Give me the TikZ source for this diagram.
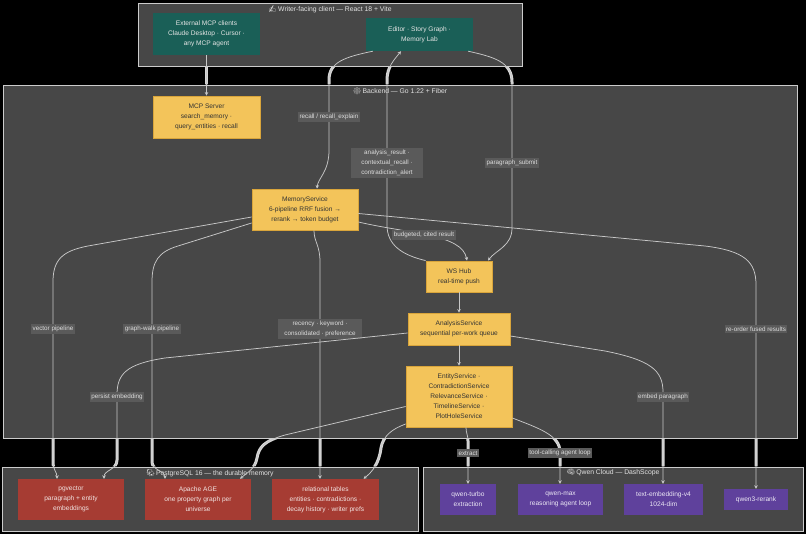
\documentclass[tikz,border=0pt]{standalone}
\usepackage{fontspec}
\setmainfont{Liberation Sans}
\newfontfamily\emojifont{Noto Emoji}
\usetikzlibrary{arrows.meta}
\definecolor{clusfill}{HTML}{474747}
\definecolor{clusdraw}{HTML}{CCCCCC}
\definecolor{ctitlec}{HTML}{E2E2E2}
\definecolor{tealfill}{HTML}{1A5F57}
\definecolor{tealtext}{HTML}{E6E6E6}
\definecolor{yelfill}{HTML}{F3C45A}
\definecolor{yeldraw}{HTML}{D9A53B}
\definecolor{yeltext}{HTML}{333333}
\definecolor{redfill}{HTML}{A63C33}
\definecolor{redtext}{HTML}{F2E4E2}
\definecolor{purfill}{HTML}{5F419C}
\definecolor{purtext}{HTML}{ECE8F4}
\definecolor{edgec}{HTML}{C8C8C8}
\definecolor{gapc}{HTML}{D6D6D6}
\definecolor{lblfill}{HTML}{5A5A5A}
\definecolor{lbltext}{HTML}{DDDDDD}
\newcommand\alledges{%
\draw[edge] (ext.south) -- (mcp.north);
\draw[edge] ([xshift=7pt]editor.south west) .. controls (345,57) and (329,62) .. (329,80) -- (329,150) .. controls (329,172) and (318,178) .. ([xshift=12pt]mem.north)
  node[lbl] (lrecall) at (329,117) {recall / recall\_explain};
\draw[edge] (ws.north west) .. controls (402,255) and (387,245) .. (387,225) -- (387,80) .. controls (387,67) and (394,60) .. ([xshift=-18.5pt]editor.south)
  node[lbl, inner xsep=10pt, inner ysep=2pt] (lanalysis) at (387,163) {analysis\_result ·\\contextual\_recall ·\\contradiction\_alert};
\draw[edge] ([xshift=-5pt]editor.south east) .. controls (494,57) and (512,62) .. (512,82) -- (512,228) .. controls (512,246) and (496,250) .. ([xshift=29pt]ws.north)
  node[lbl] (lsubmit) at (512,163) {paragraph\_submit};
\draw[edge] ([yshift=-12.5pt]mem.east) .. controls (410,234) and (462,234) .. ([xshift=8pt]ws.north)
  node[lbl] (lbudget) at (424,235) {budgeted, cited result};
\draw[edge] ([yshift=-4pt]mem.east) -- (705,246) .. controls (745,251) and (756,262) .. (756,285) -- (qr.north)
  node[lbl] (lrerank) at (756,329) {re-order fused results};
\draw[edge] ([yshift=-7.5pt]mem.west) -- (88,246) .. controls (62,251) and (53,260) .. (53,282) -- (53,462) .. controls (53,470) and (57,472) .. ([xshift=-14pt]pgv.north)
  node[lbl] (lvector) at (53,329) {vector pipeline};
\draw[edge] ([yshift=-13.5pt]mem.west) -- (178,246) .. controls (158,252) and (152,262) .. (152,282) -- (152,462) .. controls (152,470) and (165,471) .. ([xshift=-33pt]age.north)
  node[lbl] (lgraph) at (152,329) {graph-walk pipeline};
\draw[edge] ([xshift=9pt]mem.south) .. controls (314,242) and (320,245) .. (320,262) -- ([xshift=-5.5pt]rel.north)
  node[lbl, inner xsep=6pt, inner ysep=2.5pt] (lrecency) at (320,329) {recency · keyword ·\\consolidated · preference};
\draw[edge] (ws.south) -- (ana.north);
\draw[edge] (ana.south) -- (ent.north);
\draw[edge] ([yshift=-4pt]ana.west) -- (165,358) .. controls (126,364) and (117,374) .. (117,395) -- (117,460) .. controls (117,470) and (104,470) .. ([xshift=33pt]pgv.north)
  node[lbl] (lpersist) at (117,397) {persist embedding};
\draw[edge] ([yshift=-7pt]ana.east) -- (605,351) .. controls (650,360) and (663,370) .. (663,392) -- ([xshift=-0.5pt]te.north)
  node[lbl] (lembed) at (663,397) {embed paragraph};
\draw[edge] ([yshift=-10pt]ent.west) -- (285,435) .. controls (264,441) and (259,447) .. (257,458) .. controls (255,469) and (248,472) .. ([xshift=42pt]age.north);
\draw[edge] ([yshift=-27.5pt]ent.west) .. controls (392,429) and (383,436) .. (381,448) .. controls (379,464) and (372,472) .. ([xshift=38pt]rel.north);
\draw[edge] ([xshift=7pt]ent.south) .. controls (466,433) and (468,435) .. (468,441) -- (qt.north)
  node[lbl] (lextract) at (468,453) {extract};
\draw[edge] ([yshift=-21.5pt]ent.east) .. controls (538,428) and (560,435) .. (560,452) -- ([xshift=-0.5pt]qm.north)
  node[lbl] (ltool) at (560,453) {tool-calling agent loop};
}
\begin{document}
\begin{tikzpicture}[x=1pt,y=-1pt,
  every node/.style={font=\fontsize{6.6}{10}\selectfont},
  cluster/.style={rectangle, draw=clusdraw, line width=0.8pt, fill=clusfill, inner sep=0pt},
  ctitle/.style={text=ctitlec, inner sep=0pt, font=\fontsize{6.8}{10}\selectfont},
  tealbox/.style={rectangle, fill=tealfill, text=tealtext, align=center, inner sep=0pt},
  yelbox/.style={rectangle, fill=yelfill, draw=yeldraw, line width=0.8pt, text=yeltext, align=center, inner sep=0pt},
  redbox/.style={rectangle, fill=redfill, text=redtext, align=center, inner sep=0pt},
  purbox/.style={rectangle, fill=purfill, text=purtext, align=center, inner sep=0pt},
  edge/.style={draw=edgec, line width=0.75pt, -{Stealth[length=3.5pt,width=3.5pt]}},
  lbl/.style={fill=lblfill, text=lbltext, inner xsep=1.5pt, inner ysep=1.8pt, align=center, font=\fontsize{6.3}{10}\selectfont}
]
\useasboundingbox (0,0) rectangle (806,534);
\fill[black] (0,0) rectangle (806,534);
% clusters
\node[cluster, minimum width=384pt, minimum height=63pt] (client) at (330,34.5) {};
\node[cluster, minimum width=794pt, minimum height=353pt] (backend) at (400,261.5) {};
\node[cluster, minimum width=416pt, minimum height=64pt] (pg) at (210,499) {};
\node[cluster, minimum width=380pt, minimum height=64pt] (qwen) at (613,499) {};
\node[ctitle] (tclient) at (330,9) {{\emojifont ✍}\,Writer-facing client — React 18 + Vite};
\node[ctitle] (tbackend) at (400,91) {{\emojifont ⚙}\,Backend — Go 1.22 + Fiber};
\node[ctitle] (tpg) at (210,473) {{\emojifont 🐘}\,PostgreSQL 16 — the durable memory};
\node[ctitle] (tqwen) at (613,473) {{\emojifont 🧠}\,Qwen Cloud — DashScope};
% nodes
\node[tealbox, minimum width=107pt, minimum height=42pt] (ext) at (206.5,34) {External MCP clients\\Claude Desktop · Cursor ·\\any MCP agent};
\node[tealbox, minimum width=107pt, minimum height=33pt] (editor) at (419.5,34.5) {Editor · Story Graph ·\\Memory Lab};
\node[yelbox, minimum width=107pt, minimum height=42pt] (mcp) at (206.5,117) {MCP Server\\search\_memory ·\\query\_entities · recall};
\node[yelbox, minimum width=106pt, minimum height=41pt] (mem) at (305,209.5) {MemoryService\\6-pipeline RRF fusion →\\rerank → token budget};
\node[yelbox, minimum width=66pt, minimum height=31pt] (ws) at (459,276.5) {WS Hub\\real-time push};
\node[yelbox, minimum width=102pt, minimum height=32pt] (ana) at (459,329) {AnalysisService\\sequential per-work queue};
\node[yelbox, minimum width=106pt, minimum height=61pt] (ent) at (459,396.5) {EntityService ·\\ContradictionService\\RelevanceService ·\\TimelineService ·\\PlotHoleService};
\node[redbox, minimum width=106pt, minimum height=41pt] (pgv) at (71,499.5) {pgvector\\paragraph + entity\\embeddings};
\node[redbox, minimum width=106pt, minimum height=41pt] (age) at (198,499.5) {Apache AGE\\one property graph per\\universe};
\node[redbox, minimum width=107pt, minimum height=41pt] (rel) at (325.5,499.5) {relational tables\\entities · contradictions ·\\decay history · writer prefs};
\node[purbox, minimum width=56pt, minimum height=31pt] (qt) at (468,499.5) {qwen-turbo\\extraction};
\node[purbox, minimum width=85pt, minimum height=31pt] (qm) at (560.5,499.5) {qwen-max\\reasoning agent loop};
\node[purbox, minimum width=79pt, minimum height=31pt] (te) at (663.5,499.5) {text-embedding-v4\\1024-dim};
\node[purbox, minimum width=64pt, minimum height=21pt] (qr) at (756,499.5) {qwen3-rerank};
% thick segments where connectors cross the black gaps
\begin{scope}
  \clip (0,66.6) rectangle (806,84.4) (0,438.6) rectangle (806,466.4);
  \tikzset{edge/.style={draw=gapc, line width=3pt}}
  \alledges
\end{scope}
\alledges
\end{tikzpicture}
\end{document}
